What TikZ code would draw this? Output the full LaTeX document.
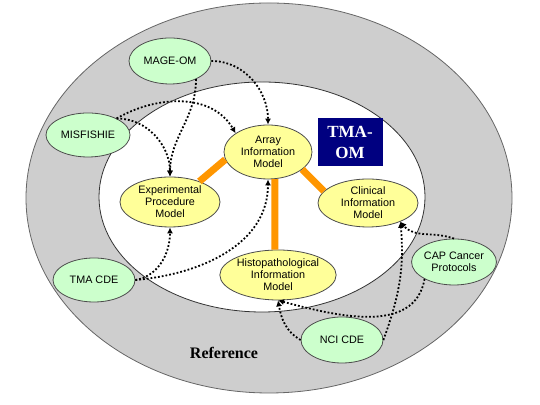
\documentclass[tikz,border=0pt]{standalone}
\usepackage{fontspec}
\setmainfont{Liberation Serif}
\setsansfont{Liberation Sans}
\usetikzlibrary{arrows.meta,shapes.geometric}
\definecolor{refgray}{RGB}{206,206,206}
\definecolor{modelyellow}{RGB}{255,255,153}
\definecolor{stdgreen}{RGB}{204,255,204}
\definecolor{linkorange}{RGB}{255,150,0}
\definecolor{omnavy}{RGB}{0,0,128}

\begin{document}
\begin{tikzpicture}[x=0.5pt,y=0.5pt,
  model/.style={ellipse,draw=black!70,fill=modelyellow,inner sep=0pt,align=center,
    font=\sffamily\fontsize{5.4}{6}\selectfont},
  standard/.style={ellipse,draw=black!70,fill=stdgreen,inner sep=0pt,align=center,
    minimum width=41pt,minimum height=23pt,font=\sffamily\fontsize{5.4}{6}\selectfont},
  uselink/.style={densely dotted,line width=0.9pt,-{Latex[length=3pt,width=3pt]}},
  corelink/.style={line width=3.5pt,linkorange}]
  \useasboundingbox (0,0) rectangle (540,405);
  \filldraw[fill=refgray,draw=black!60] (269,207) ellipse[x radius=243,y radius=195];
  \filldraw[fill=white,draw=black!80] (262,208) ellipse[x radius=163,y radius=115];
  \node at (224,52) {\bfseries\fontsize{8}{9}\selectfont Reference};
  \node[fill=omnavy,text=white,minimum width=32.5pt,minimum height=24pt,inner sep=0pt,align=center,
    font=\bfseries\fontsize{8.5}{10.5}\selectfont] (tmaom) at (350,263) {TMA-\\OM};
  % core models
  \node[model,minimum width=44pt,minimum height=27pt] (array) at (268,253) {Array\\Information\\Model};
  \node[model,minimum width=50pt,minimum height=25pt] (expproc) at (170,203) {Experimental\\Procedure\\Model};
  \node[model,minimum width=50pt,minimum height=24pt] (clinical) at (368,202) {Clinical\\Information\\Model};
  \node[model,minimum width=50pt,minimum height=25pt] (histo) at (278,130) {Histopathological\\Information\\Model};
  % reference standards
  \node[standard] (mage) at (170,344) {MAGE-OM};
  \node[standard,minimum width=42pt,minimum height=22pt] (misfishie) at (88,270) {MISFISHIE};
  \node[standard,minimum height=22pt] (tmacde) at (94,125) {TMA CDE};
  \node[standard] (cap) at (454,143) {CAP Cancer\\Protocols};
  \node[standard] (ncicde) at (342,65) {NCI CDE};
  \draw[corelink] (array.190) -- (expproc.35);
  \draw[corelink] (array.-76) -- (histo.97);
  \draw[corelink] (array.-27) -- (clinical.165);
  \draw[uselink] (mage.east) to[out=0,in=90] (array.north);
  \draw[uselink] (mage.-35) to[out=-90,in=90] (expproc.north);
  \draw[uselink] (misfishie.30) to[out=30,in=120] (array.150);
  \draw[uselink] (misfishie.30) to[out=0,in=90] (expproc.north);
  \draw[uselink] (tmacde.east) to[out=10,in=-90] (expproc.south);
  \draw[uselink] (tmacde.east) to[out=5,in=-90] (array.south);
  \draw[uselink] (cap.north) to[out=160,in=-50] (clinical.-30);
  \draw[uselink] (ncicde.east) to[out=70,in=-85] (clinical.-30);
  \draw[uselink] (cap.210) to[out=-100,in=-15] (histo.south);
  \draw[uselink] (ncicde.west) to[out=150,in=-80] (histo.south);
\end{tikzpicture}
\end{document}
